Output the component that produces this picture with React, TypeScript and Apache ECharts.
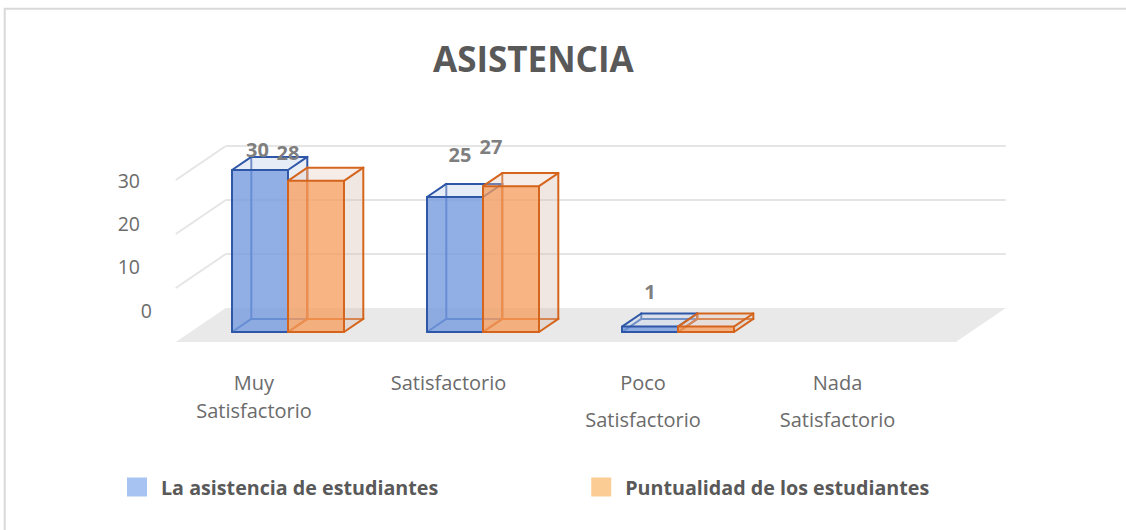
import { useEffect, useRef } from 'react';
import * as echarts from 'echarts';

// ---------- data ----------
const categories = ['Muy Satisfactorio', 'Satisfactorio', 'Poco Satisfactorio', 'Nada Satisfactorio'];
const asistencia: (number | null)[] = [30, 25, 1, null];
const puntualidad: (number | null)[] = [28, 27, 1, null];
const seriesNames = ['La asistencia de estudiantes', 'Puntualidad de los estudiantes'];
const yTicks = [0, 10, 20, 30];
const titleText = 'ASISTENCIA';

// ---------- layout / style ----------
const FONT = '"Open Sans", "Noto Sans", sans-serif';
const DEPTH = { x: 50, y: -34 }; // full floor depth vector in px
const BAR_FRONT = 0.294; // depth fraction where bar front faces sit
const BAR_BACK = 0.68; // depth fraction where bar back faces sit
const BAR_FRAC = 56 / 195; // bar width as a fraction of the category band
// label nudges relative to the top-centre of the bar's front face [series][category]; null = label hidden (overlapped in the original)
const LABEL_NUDGE: (number[] | null)[][] = [
  [[-2.5, -20.5], [5, -43], [0, -35], [0, -30]],
  [[-28, -28], [-20, -40], null, [0, -30]],
];
const PALETTE = [
  {
    edge: '#2f57a8',
    front: 'rgba(117,155,222,0.80)',
    top: 'rgba(200,214,236,0.45)',
    side: 'rgba(200,212,232,0.40)',
    legend: '#a6c3f2',
  },
  {
    edge: '#d5651c',
    front: 'rgba(247,155,90,0.75)',
    top: 'rgba(228,204,192,0.35)',
    side: 'rgba(215,190,178,0.38)',
    legend: '#fbcd94',
  },
];

const makeBarRenderer = (side: number) => (params: any, api: any) => {
  const cat = api.value(0);
  const v = api.value(1);
  if (v === null || v === undefined || isNaN(v)) return null;
  const pal = PALETTE[side];
  const p0 = api.coord([cat, 0]);
  const p1 = api.coord([cat, v]);
  const band = api.size([1, 0])[0];
  const w = band * BAR_FRAC;
  const x0 = side === 0 ? p0[0] - w : p0[0];
  const x1 = x0 + w;
  const yb = p0[1];
  const yt = p1[1];
  const dx = DEPTH.x * (BAR_BACK - BAR_FRONT);
  const dy = DEPTH.y * (BAR_BACK - BAR_FRONT);
  const F = { lb: [x0, yb], rb: [x1, yb], rt: [x1, yt], lt: [x0, yt] };
  const B = {
    lb: [x0 + dx, yb + dy],
    rb: [x1 + dx, yb + dy],
    rt: [x1 + dx, yt + dy],
    lt: [x0 + dx, yt + dy],
  };
  const line = (a: number[], b: number[]) => ({
    type: 'line',
    shape: { x1: a[0], y1: a[1], x2: b[0], y2: b[1] },
    style: { stroke: pal.edge, lineWidth: 2, lineCap: 'round' },
  });
  const poly = (pts: number[][], fill: string) => ({
    type: 'polygon',
    shape: { points: pts },
    style: { fill },
  });
  const nudge = LABEL_NUDGE[side][cat];
  const children: any[] = [
    // hidden edges (seen through the translucent faces)
    line(B.lb, B.lt),
    line(B.lb, B.rb),
    line(F.lb, B.lb),
    // faces
    poly([F.rb, B.rb, B.rt, F.rt], pal.side),
    poly([F.lt, F.rt, B.rt, B.lt], pal.top),
    {
      type: 'rect',
      shape: { x: x0, y: yt, width: w, height: yb - yt },
      style: { fill: pal.front },
    },
    // visible edges
    line(B.lt, B.rt),
    line(B.rt, B.rb),
    line(F.lt, B.lt),
    line(F.rt, B.rt),
    line(F.rb, B.rb),
    {
      type: 'polygon',
      shape: { points: [F.lb, F.rb, F.rt, F.lt] },
      style: { fill: 'none', stroke: pal.edge, lineWidth: 2, lineJoin: 'round' },
    },
  ];
  if (nudge) {
    children.push({
      type: 'text',
      style: {
        text: String(v),
        x: (x0 + x1) / 2 + nudge[0],
        y: yt + nudge[1],
        fill: '#7f7f7f',
        font: `bold 20px ${FONT}`,
        align: 'center',
        verticalAlign: 'middle',
        textAlign: 'center',
        textVerticalAlign: 'middle',
      },
    });
  }
  return { type: 'group', children };
};

const frameRenderer = (params: any, api: any) => {
  const v = api.value(1);
  const cs = params.coordSys;
  const left = cs.x;
  const right = cs.x + cs.width;
  const y = api.coord([0, v])[1];
  const ff = { x: -BAR_FRONT * DEPTH.x, y: -BAR_FRONT * DEPTH.y };
  const bw = { x: (1 - BAR_FRONT) * DEPTH.x, y: (1 - BAR_FRONT) * DEPTH.y };
  if (v === 0) {
    return {
      type: 'polygon',
      shape: {
        points: [
          [left + ff.x, y + ff.y],
          [left + bw.x, y + bw.y],
          [right + bw.x, y + bw.y],
          [right + ff.x, y + ff.y],
        ],
      },
      style: { fill: '#e9e9e9' },
    };
  }
  const st = { stroke: '#e5e5e5', lineWidth: 2 };
  return {
    type: 'group',
    children: [
      {
        type: 'line',
        shape: { x1: left + bw.x, y1: y + bw.y, x2: right + bw.x, y2: y + bw.y },
        style: st,
      },
      {
        type: 'line',
        shape: { x1: left + ff.x, y1: y + ff.y, x2: left + bw.x, y2: y + bw.y },
        style: st,
      },
    ],
  };
};

const xLabelFormatter = (value: string, index: number) => {
  const parts = value.split(' ');
  if (parts.length === 1) return `{p|${value}}`;
  if (index === 0) return `{m1|${parts[0]}}\n{m2|${parts.slice(1).join(' ')}}`;
  return `{p|${parts[0]}}\n{p|${parts.slice(1).join(' ')}}`;
};

export default function App() {
  const ref = useRef<HTMLDivElement>(null);
  useEffect(() => {
    if (!ref.current) return;
    const chart = echarts.init(ref.current, undefined, { renderer: 'svg' });
    const labelColor = '#6b6b6b';
    const option: any = {
      animation: false,
      backgroundColor: '#ffffff',
      title: {
        text: titleText,
        left: 433,
        top: 41,
        padding: 0,
        textStyle: { fontFamily: FONT, fontWeight: 'bold', fontSize: 35, color: '#595959' },
      },
      legend: {
        left: 127,
        top: 477,
        padding: 0,
        itemWidth: 20,
        itemHeight: 19,
        itemGap: 153,
        icon: 'rect',
        selectedMode: false,
        data: seriesNames.map((n, i) => ({ name: n, itemStyle: { color: PALETTE[i].legend } })),
        textStyle: {
          fontFamily: FONT,
          fontWeight: 'bold',
          fontSize: 19.7,
          color: '#595959',
          padding: [0, 0, 0, 9],
        },
      },
      graphic: [
        {
          type: 'rect',
          silent: true,
          z: -10,
          shape: { x: 4.7, y: 8.8, width: 1400, height: 800 },
          style: { fill: 'none', stroke: '#d9d9d9', lineWidth: 2 },
        },
      ],
      grid: [
        { left: 190.5, top: 170, width: 780, height: 162 },
        { left: 156.75, top: 340, width: 778, height: 10 },
        { left: 160, top: 180, width: 10, height: 130 },
      ],
      xAxis: [
        { type: 'category', gridIndex: 0, data: categories, show: false },
        {
          type: 'category',
          gridIndex: 1,
          data: categories,
          axisLine: { show: false },
          axisTick: { show: false },
          axisLabel: {
            interval: 0,
            margin: 14,
            formatter: xLabelFormatter,
            rich: {
              p: { fontFamily: FONT, fontSize: 20, color: labelColor, lineHeight: 37 },
              m1: { fontFamily: FONT, fontSize: 20, color: labelColor, lineHeight: 36 },
              m2: { fontFamily: FONT, fontSize: 20, color: labelColor, lineHeight: 20 },
            },
          },
        },
        { type: 'value', gridIndex: 2, show: false },
      ],
      yAxis: [
        { type: 'value', gridIndex: 0, min: 0, max: 30, interval: 10, show: false },
        { type: 'value', gridIndex: 1, show: false },
        {
          type: 'value',
          gridIndex: 2,
          min: 0,
          max: 30,
          interval: 10,
          axisLine: { show: false },
          axisTick: { show: false },
          splitLine: { show: false },
          axisLabel: {
            margin: 8,
            formatter: (v: number) => (v === 0 ? `{z|${v}}` : `{n|${v}}`),
            rich: {
              n: { fontFamily: FONT, fontSize: 19.5, color: labelColor, padding: [0, 12, 0, 0] },
              z: { fontFamily: FONT, fontSize: 19.5, color: labelColor },
            },
          },
        },
      ],
      series: [
        {
          type: 'custom',
          name: 'frame',
          xAxisIndex: 0,
          yAxisIndex: 0,
          z: 1,
          silent: true,
          renderItem: frameRenderer,
          data: yTicks.map((t) => [0, t]),
        },
        {
          type: 'custom',
          name: seriesNames[0],
          xAxisIndex: 0,
          yAxisIndex: 0,
          z: 2,
          itemStyle: { color: PALETTE[0].legend },
          renderItem: makeBarRenderer(0),
          data: asistencia.map((v, i) => [i, v === null ? '-' : v]),
        },
        {
          type: 'custom',
          name: seriesNames[1],
          xAxisIndex: 0,
          yAxisIndex: 0,
          z: 3,
          itemStyle: { color: PALETTE[1].legend },
          renderItem: makeBarRenderer(1),
          data: puntualidad.map((v, i) => [i, v === null ? '-' : v]),
        },
      ],
    };
    chart.setOption(option);
    return () => chart.dispose();
  }, []);
  return (
    <div
      ref={ref}
      style={{ position: 'absolute', left: 0, top: 0, width: 1126, height: 530 }}
    />
  );
}
